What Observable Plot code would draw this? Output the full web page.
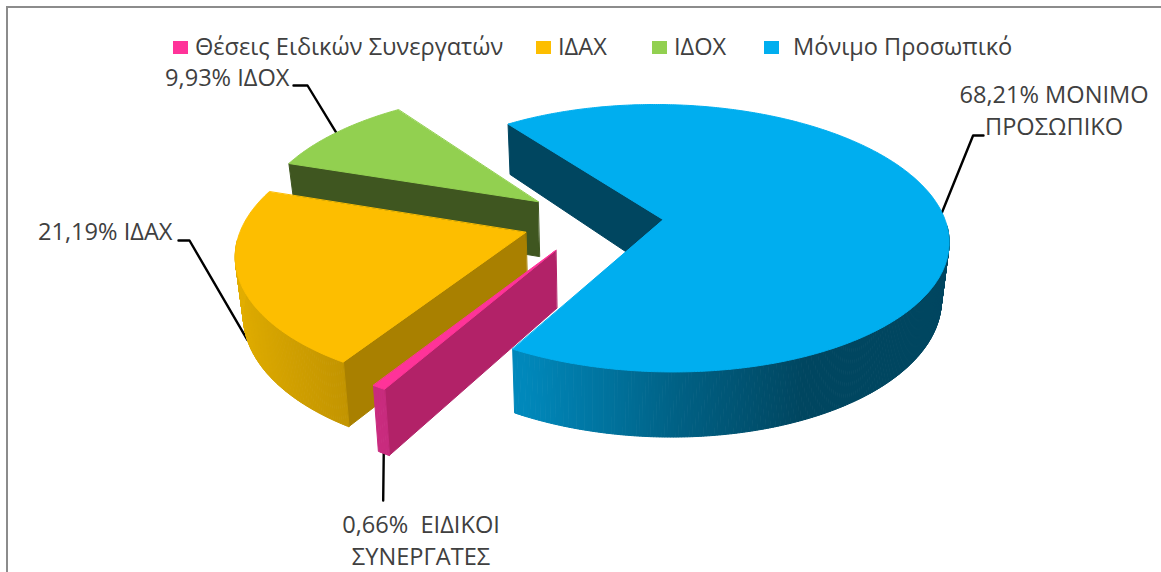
<!DOCTYPE html>
<html lang="el">
<head>
<meta charset="utf-8">
<title>Κατανομή προσωπικού</title>
<script src="https://cdn.jsdelivr.net/npm/d3@7"></script>
<script src="https://cdn.jsdelivr.net/npm/@observablehq/plot@0.6"></script>
<style>
  html, body { margin: 0; padding: 0; background: #fff; overflow: hidden; }
  #page { position: relative; width: 1161px; height: 572px; overflow: hidden; font-family: "Open Sans", sans-serif; color: #404040; }
  #frame { position: absolute; left: 6px; top: 6px; right: -4px; bottom: -4px; border: 2px solid #8c8c8c; pointer-events: none; }
  #legend { position: relative; height: 60px; }
  .key { position: absolute; top: 30px; height: 32px; line-height: 32px; font-size: 23.6px; white-space: pre; }
  .swatch { position: absolute; top: 11px; width: 15px; height: 13px; }
  svg { display: block; }
</style>
</head>
<body>
<div id="page">
  <div id="frame"></div>
  <div id="legend"></div>
  <div id="chart"></div>
</div>
<script>
// ---- Data ----
const legendNames = ["Θέσεις Ειδικών Συνεργατών", "ΙΔΑΧ", "ΙΔΟΧ", "Μόνιμο Προσωπικό"];
const shares = [0.66, 21.19, 9.93, 68.21];
const labelLines = [
  ["0,66%  ΕΙΔΙΚΟΙ", "ΣΥΝΕΡΓΑΤΕΣ"],
  ["21,19% ΙΔΑΧ"],
  ["9,93% ΙΔΟΧ"],
  ["68,21% ΜΟΝΙΜΟ", "ΠΡΟΣΩΠΙΚΟ"]
];
const topColors = ["#ff3399", "#fdbe00", "#92d050", "#00aeef"];
const radialColors = ["#b22268", "#a98000", "#3f5620", "#004660"];
const arcRamps = [
  ["#cc2c80", "#c42a7c"],
  ["#e2ae00", "#c29400"],
  ["#3f5620", "#3f5620"],
  ["#0088bb", "#006084", "#004660"]
];

// ---- Layout of the 3-D view (not data) ----
const W = 1161, H = 572, TOP = 60;
const view = {cx: 599, cy: 219, r: 282, c: 131.1 / 282, p: 0.14, depth: 56, shrink: 0.978};
const firstAngle = 119.7;               // where the first slice starts, degrees clockwise from the right
const explode = [[-0.15, 0.228], [-0.258, 0.097], [-0.2225, -0.139], [0.225, 0]];
const legendX = [[173, 195], [536, 558], [652, 674], [764, 793]];
// label anchor, text alignment and leader elbow per slice
const labelLayout = [
  {x: 420.5, y: 525, anchor: "middle", knee: [[382.7, 500]]},
  {x: 172, y: 232, anchor: "end", knee: [[178, 240], [189, 240]]},
  {x: 289, y: 78, anchor: "end", knee: [[293, 85], [307, 85]]},
  {x: 1053.5, y: 95, anchor: "middle", knee: [[983, 135], [972.6, 135]]}
];
const lineGap = 32;

// ---- Geometry: slices follow the shares ----
function project(u, v, z) {
  const s = 1 / (1 - view.p * v);
  const k = z ? view.shrink : 1;
  return {x: view.cx + view.r * u * s * k, y: view.cy + view.r * view.c * v * s + (z ? view.depth * s : 0)};
}
const total = d3.sum(shares);
let cursor = firstAngle;
const slices = shares.map((value, i) => {
  const from = cursor, to = cursor + value / total * 360;
  cursor = to;
  return {i, from, to, mid: (from + to) / 2, off: explode[i]};
});
const rad = d => d * Math.PI / 180;
const rim = (sl, a, z) => project(sl.off[0] + Math.cos(rad(a)), sl.off[1] + Math.sin(rad(a)), z);
const hub = (sl, z) => project(sl.off[0], sl.off[1], z);

const polys = [];
let pid = 0;
const add = (color, pts) => { const id = pid++; pts.forEach(p => polys.push({id, color, x: p.x, y: p.y})); };

function drawSlice(sl) {
  const i = sl.i;
  // the radial wall that faces the viewer
  add(radialColors[i], [hub(sl, 0), rim(sl, sl.from, 0), rim(sl, sl.from, 1), hub(sl, 1)]);
  // the outer wall, in thin shaded strips
  const dom = i === 3 ? [-0.46, 0.02, 0.41] : i === 1 ? [-0.985, -0.515] : [-0.6, -0.4];
  const ramp = d3.scaleLinear().domain(dom).range(arcRamps[i]).clamp(true).interpolate(d3.interpolateRgb);
  const n = Math.max(2, Math.ceil((sl.to - sl.from) / 0.5));
  for (let k = 0; k < n; k++) {
    const a0 = sl.from + (sl.to - sl.from) * k / n;
    const a1 = sl.from + (sl.to - sl.from) * (k + 1) / n;
    const m = rad((a0 + a1) / 2);
    if (Math.sin(m) < 0.05) continue;
    add(ramp(Math.cos(m)), [rim(sl, a0, 0), rim(sl, a1, 0), rim(sl, a1, 1), rim(sl, a0, 1)]);
  }
  // the top face
  const face = [hub(sl, 0)];
  for (let k = 0; k <= n; k++) face.push(rim(sl, sl.from + (sl.to - sl.from) * k / n, 0));
  add(topColors[i], face);
}
// back to front: green, orange, pink, blue
[2, 1, 0, 3].forEach(i => drawSlice(slices[i]));

// ---- Leaders and labels ----
const leaders = [];
const leaderEnd = [rim(slices[0], slices[0].mid, 1), rim(slices[1], slices[1].mid, 1), rim(slices[2], slices[2].mid, 0), rim(slices[3], slices[3].mid, 0)];
labelLayout.forEach((l, i) => {
  l.knee.forEach(p => leaders.push({id: i, x: p[0], y: p[1]}));
  leaders.push({id: i, x: leaderEnd[i].x, y: leaderEnd[i].y});
});
const labels = labelLines.flatMap((lines, i) =>
  lines.map((text, k) => ({text, x: labelLayout[i].x, y: labelLayout[i].y + k * lineGap, anchor: labelLayout[i].anchor}))
);

// ---- Legend ----
const legend = document.getElementById("legend");
legendNames.forEach((name, i) => {
  const sw = document.createElement("div");
  sw.className = "key";
  sw.style.left = legendX[i][1] + "px";
  sw.textContent = name;
  const box = document.createElement("div");
  box.className = "key";
  box.style.left = legendX[i][0] + "px";
  box.innerHTML = `<span class="swatch" style="background:${topColors[i]}"></span>`;
  legend.append(box, sw);
});

// ---- Chart ----
const textMark = a => Plot.text(labels.filter(d => d.anchor === a), {
  x: "x", y: "y", text: "text", textAnchor: a, lineAnchor: "middle",
  fontSize: 23.6, fontFamily: '"Open Sans", sans-serif', fill: "#404040"
});
const chart = Plot.plot({
  width: W,
  height: H - TOP,
  margin: 0,
  x: {domain: [0, W], range: [0, W], axis: null},
  y: {domain: [TOP, H], range: [0, H - TOP], axis: null},
  color: {type: "identity"},
  style: {background: "transparent", overflow: "hidden"},
  marks: [
    Plot.line(leaders, {x: "x", y: "y", z: "id", stroke: "#000", strokeWidth: 2.4, curve: "linear"}),
    Plot.line(polys, {x: "x", y: "y", z: "id", fill: "color", stroke: "color", strokeWidth: 1, curve: "linear-closed"}),
    textMark("middle"),
    textMark("end")
  ]
});
document.getElementById("chart").append(chart);
</script>
</body>
</html>
